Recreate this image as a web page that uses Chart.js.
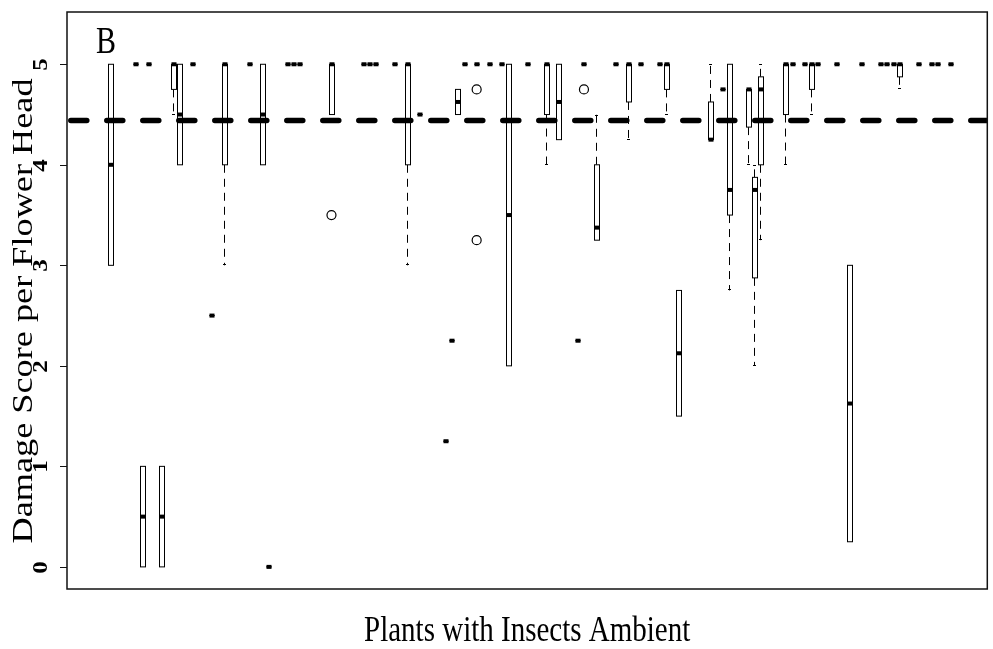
<!DOCTYPE html>
<html>
<head>
<meta charset="utf-8">
<style>
  html, body { margin: 0; padding: 0; background: #fff; }
</style>
<script src="https://cdn.jsdelivr.net/npm/chart.js@4.4.1/dist/chart.umd.min.js"></script>
</head>
<body>
<canvas id="chart" width="993" height="649"></canvas>
<script>
// plants whose scores vary: five-number summary per plant
const boxPlants = [2, 7, 10, 12, 13, 20, 26, 37, 49, 57, 65, 71, 73, 79, 84, 90, 92, 97, 100, 103, 104, 105, 109, 113, 119, 127];
const whiskerLow = [3, 0, 0, 4.5, 4, 3, 4, 4.5, 3, 4.5, 2, 4, 4.25, 3.25, 4.25, 4.5, 1.5, 4.25, 2.75, 4, 2, 3.25, 4, 4.5, 0.25, 4.75];
const lowerQuart = [3, 0, 0, 4.75, 4, 4, 4, 4.5, 4, 4.5, 2, 4.5, 4.25, 3.25, 4.625, 4.75, 1.5, 4.25, 3.5, 4.375, 2.875, 4, 4.5, 4.75, 0.25, 4.875];
const medians = [4, 0.5, 0.5, 5, 4.5, 5, 4.5, 5, 5, 4.625, 3.5, 5, 4.625, 3.375, 5, 5, 2.125, 4.25, 3.75, 4.75, 3.75, 4.75, 5, 5, 1.625, 5];
const upperQuart = [5, 1, 1, 5, 5, 5, 5, 5, 5, 4.75, 5, 5, 5, 4, 5, 5, 2.75, 4.625, 5, 4.75, 3.875, 4.875, 5, 5, 3, 5];
const whiskerHigh = [5, 1, 1, 5, 5, 5, 5, 5, 5, 4.75, 5, 5, 5, 4.5, 5, 5, 2.75, 5, 5, 4.75, 4, 5, 5, 5, 3, 5];

// plants where every flower head got the same score
const flatPlants = [6, 8, 15, 18, 24, 27, 30, 31, 32, 42, 43, 44, 47, 51, 55, 56, 58, 60, 62, 64, 68, 76, 77, 82, 86, 89, 99, 110, 112, 114, 117, 121, 124, 125, 126, 130, 132, 133, 135];
const flatScores = [5, 5, 5, 2.5, 5, 0, 5, 5, 5, 5, 5, 5, 5, 4.5, 1.25, 2.25, 5, 5, 5, 5, 5, 2.25, 5, 5, 5, 5, 4.75, 5, 5, 5, 5, 5, 5, 5, 5, 5, 5, 5, 5];

const outlierPlants = [37, 60, 60, 77];
const outlierScores = [3.5, 4.75, 3.25, 4.75];

const meanScore = 4.44;
const yTicks = [0, 1, 2, 3, 4, 5];
const plantCount = 135;

const serif = '"Liberation Serif", "Times New Roman", serif';
const stretch = 1.25; // the original figure is taller than it is wide

const boxPlugin = {
  id: 'boxes',
  beforeDatasetsDraw(chart) {
    const {ctx} = chart;
    const x = chart.scales.x, y = chart.scales.y;
    const seg = (x1, y1, x2, y2) => {
      ctx.beginPath(); ctx.moveTo(x1, y1); ctx.lineTo(x2, y2); ctx.stroke();
    };
    const drawBox = (p, lo, a, m, b, hi) => {
      const c = x.getPixelForValue(p);
      const left = Math.round(c - 2.5) + 0.5;
      const w = 5;
      const cx = left + 2;
      const yLo = y.getPixelForValue(lo), yA = y.getPixelForValue(a);
      const yM = y.getPixelForValue(m), yB = y.getPixelForValue(b);
      const yHi = y.getPixelForValue(hi);
      ctx.strokeStyle = '#000';
      ctx.lineWidth = 1;
      ctx.setLineDash([8, 6]);
      if (hi > b) seg(cx, yB, cx, yHi);
      if (lo < a) seg(cx, yA, cx, yLo);
      ctx.setLineDash([]);
      if (hi > b) seg(cx - 1.5, Math.round(yHi) + 0.5, cx + 1.5, Math.round(yHi) + 0.5);
      if (lo < a) seg(cx - 1.5, Math.round(yLo) - 0.5, cx + 1.5, Math.round(yLo) - 0.5);
      ctx.fillStyle = '#fff';
      ctx.fillRect(left, yB, w, yA - yB);
      ctx.strokeRect(left, yB, w, yA - yB);
      ctx.lineWidth = 4;
      seg(left, yM, left + w, yM);
    };
    ctx.save();
    flatPlants.forEach((p, i) => {
      const v = flatScores[i];
      drawBox(p, v, v, v, v, v);
    });
    boxPlants.forEach((p, i) => {
      drawBox(p, whiskerLow[i], lowerQuart[i], medians[i], upperQuart[i], whiskerHigh[i]);
    });
    ctx.restore();
  },
  afterDraw(chart) {
    const {ctx, chartArea: area} = chart;
    const y = chart.scales.y;
    ctx.save();
    // frame
    ctx.strokeStyle = '#111';
    ctx.lineWidth = 1.5;
    ctx.strokeRect(area.left, area.top, area.right - area.left, area.bottom - area.top);
    // y ticks and rotated labels
    ctx.lineWidth = 1;
    ctx.fillStyle = '#000';
    yTicks.forEach(v => {
      const py = Math.round(y.getPixelForValue(v)) + 0.5;
      ctx.beginPath(); ctx.moveTo(area.left - 7, py); ctx.lineTo(area.left, py); ctx.stroke();
      ctx.save();
      ctx.translate(area.left - 20, py);
      ctx.rotate(-Math.PI / 2);
      ctx.scale(stretch, 1);
      ctx.font = 'bold 20px ' + serif;
      ctx.textAlign = 'center';
      ctx.textBaseline = 'alphabetic';
      ctx.fillText(String(v), 0, 0);
      ctx.restore();
    });
    // y title
    ctx.save();
    ctx.translate(32, 311);
    ctx.rotate(-Math.PI / 2);
    ctx.scale(stretch, 1);
    ctx.font = '29px ' + serif;
    ctx.textAlign = 'center';
    ctx.fillText('Damage Score per Flower Head', 0, 0);
    ctx.restore();
    // x title
    ctx.save();
    ctx.translate((area.left + area.right) / 2, 641);
    ctx.scale(1, stretch);
    ctx.font = '29px ' + serif;
    ctx.textAlign = 'center';
    ctx.fillText('Plants with Insects Ambient', 0, 0);
    ctx.restore();
    // panel letter
    ctx.save();
    ctx.translate(96, 53);
    ctx.scale(1, stretch);
    ctx.font = '30px ' + serif;
    ctx.textAlign = 'left';
    ctx.fillText('B', 0, 0);
    ctx.restore();
    ctx.restore();
  }
};

new Chart(document.getElementById('chart'), {
  type: 'scatter',
  data: {
    datasets: [
      {
        label: 'outliers',
        data: outlierPlants.map((p, i) => ({x: p, y: outlierScores[i]})),
        pointRadius: 4.5,
        pointBorderWidth: 1.2,
        pointBorderColor: '#000',
        pointBackgroundColor: 'rgba(255,255,255,0)',
      },
      {
        label: 'mean',
        type: 'line',
        data: [{x: -10, y: meanScore}, {x: plantCount + 10, y: meanScore}],
        borderColor: '#000',
        borderWidth: 5.5,
        borderDash: [16, 20],
        borderCapStyle: 'round',
        pointRadius: 0,
        clip: 0,
      },
    ],
  },
  options: {
    responsive: false,
    animation: false,
    layout: {padding: {left: 67, right: 3, top: 12, bottom: 60}},
    plugins: {legend: {display: false}, tooltip: {enabled: false}},
    scales: {
      x: {type: 'linear', display: false, min: 0.5 - 0.04 * plantCount, max: plantCount + 0.5 + 0.04 * plantCount},
      y: {type: 'linear', display: false, min: -0.22, max: 5.52},
    },
  },
  plugins: [boxPlugin],
});
</script>
</body>
</html>
